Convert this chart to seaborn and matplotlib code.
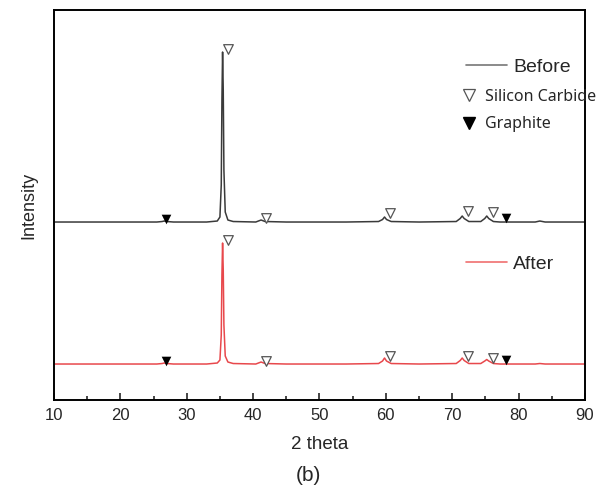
import pandas as pd
import matplotlib
matplotlib.use("Agg")
import matplotlib.pyplot as plt
from matplotlib.lines import Line2D
import seaborn as sns

# -----------------------
# DATA (intensity in arbitrary units)
# -----------------------
two_theta = [10, 20, 25.5, 26.3, 26.6, 27.0, 28, 33, 34.6, 35.0, 35.2, 35.3, 35.4,
             35.5, 35.6, 35.8, 36.2, 37, 40.4, 41.2, 41.8, 45, 50, 54, 58.9, 59.5,
             59.8, 60.1, 60.8, 65, 70.6, 71.2, 71.5, 71.8, 72.5, 74.3, 74.9, 75.2,
             75.5, 76.2, 77.2, 80, 82.5, 83.2, 84, 90]

before = [178, 178, 178, 178.5, 179, 178.5, 178, 178, 179, 183, 215, 300, 348,
          310, 230, 188, 180, 178.5, 178, 180, 178.5, 178, 178, 178, 178.5, 180.5,
          183, 180.5, 178.5, 178, 178.5, 181.5, 184, 181.5, 178.5, 178.5, 181.5, 184,
          181.5, 178.5, 178, 178, 178, 179, 178, 178]

after = [36, 36, 36, 36.5, 37, 36.5, 36, 36, 37, 40, 65, 125, 157,
         130, 75, 44, 38, 36.5, 36, 38, 36.5, 36, 36, 36, 36.5, 39,
         42, 39, 36.5, 36, 36.5, 39.5, 42, 39.5, 36.5, 36.5, 39, 40.5,
         39, 36.5, 36, 36, 36, 36.5, 36, 36]

# peak markers
sic_x = [36.2, 42.0, 60.6, 72.4, 76.1]
sic_before_y = [351, 182, 187, 189, 188]
sic_after_y = [160, 39, 44, 44, 42]
graphite_x = [26.9, 78.1]
graphite_before_y = [181, 182]
graphite_after_y = [39, 40]

df = pd.DataFrame({"two_theta": two_theta, "Before": before, "After": after})

# -----------------------
# PLOT
# -----------------------
sns.set_style("white")
plt.rcParams["font.family"] = ["Liberation Sans", "DejaVu Sans"]

fig = plt.figure(figsize=(6.04, 4.91), dpi=100)
ax = fig.add_axes([0.0894, 0.1853, 0.8791, 0.7943])

sns.lineplot(data=df, x="two_theta", y="Before", ax=ax, color="#3a3a3a", lw=1.1)
sns.lineplot(data=df, x="two_theta", y="After", ax=ax, color="#e8484c", lw=1.1)

sic_style = dict(marker="v", s=48, facecolor="white", edgecolor="#555555", linewidth=0.9, zorder=5)
gr_style = dict(marker="v", s=48, color="black", linewidth=0, zorder=5)
sns.scatterplot(x=sic_x, y=sic_before_y, ax=ax, **sic_style)
sns.scatterplot(x=sic_x, y=sic_after_y, ax=ax, **sic_style)
sns.scatterplot(x=graphite_x, y=graphite_before_y, ax=ax, **gr_style)
sns.scatterplot(x=graphite_x, y=graphite_after_y, ax=ax, **gr_style)

ax.set_xlim(10, 90)
ax.set_ylim(0, 390)
ax.set_xticks(range(10, 91, 10))
ax.set_xticks(range(15, 90, 10), minor=True)
ax.set_yticks([])
ax.tick_params(axis="x", which="major", direction="in", length=5, width=1.2,
               labelsize=12, pad=6, bottom=True)
ax.tick_params(axis="x", which="minor", direction="in", length=3, width=1.2, bottom=True)
for s in ax.spines.values():
    s.set_linewidth(1.4)
    s.set_color("black")

ax.set_xlabel("2 theta", fontsize=13.5, labelpad=9)
ax.set_ylabel("Intensity", fontsize=13, labelpad=12)

# legends
leg1 = ax.legend(handles=[Line2D([], [], color="#777777", lw=1.2)], labels=["Before"],
                 loc="center left", bbox_to_anchor=(0.757, 0.853), frameon=False,
                 fontsize=14, handlelength=2.15, handletextpad=0.3, borderpad=0)
ax.add_artist(leg1)

mk_handles = [Line2D([], [], ls="", marker="v", markersize=8, markerfacecolor="white",
                     markeredgecolor="#555555", markeredgewidth=0.9),
              Line2D([], [], ls="", marker="v", markersize=8, color="black")]
leg2 = ax.legend(handles=mk_handles, labels=["Silicon Carbide", "Graphite"],
                 loc="upper left", bbox_to_anchor=(0.752, 0.818), frameon=False,
                 prop={"family": "Noto Sans", "size": 11.5}, handlelength=1.0,
                 handletextpad=0.5, borderpad=0, labelspacing=0.7)
for t in leg2.get_texts():
    t.set_clip_on(False)
ax.add_artist(leg2)

leg3 = ax.legend(handles=[Line2D([], [], color="#f07070", lw=1.2)], labels=["After"],
                 loc="center left", bbox_to_anchor=(0.757, 0.349), frameon=False,
                 fontsize=14, handlelength=2.15, handletextpad=0.3, borderpad=0)

fig.text(0.51, 0.012, "(b)", fontsize=15, ha="center", va="bottom")

plt.savefig("out.png", dpi=100)
